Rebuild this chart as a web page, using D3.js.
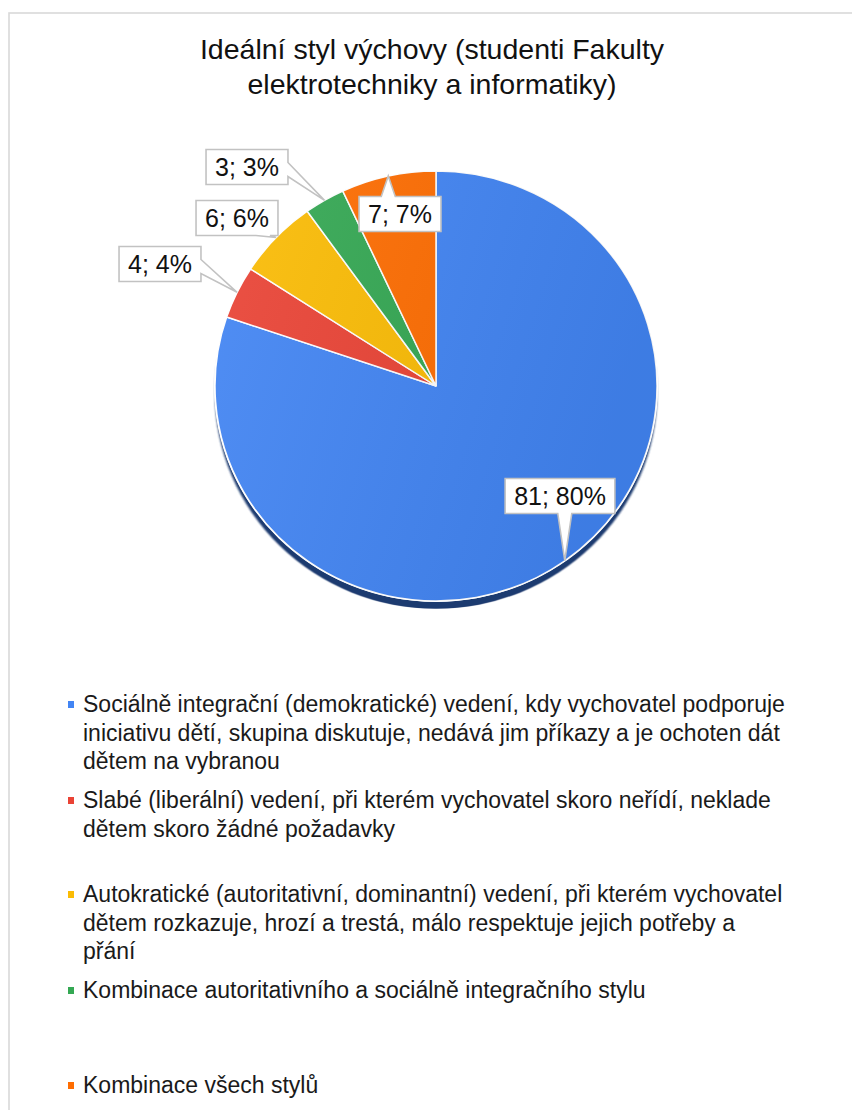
<!DOCTYPE html>
<html>
<head>
<meta charset="utf-8">
<script src="https://cdn.jsdelivr.net/npm/d3@7"></script>
<style>
  body { margin: 0; background: #fff; }
  svg { display: block; font-family: "Liberation Sans", Arial, sans-serif; }
</style>
</head>
<body>
<div id="chart"></div>
<script>
// data
var categories = [
  "Sociálně integrační (demokratické) vedení, kdy vychovatel podporuje iniciativu dětí, skupina diskutuje, nedává jim příkazy a je ochoten dát dětem na vybranou",
  "Slabé (liberální) vedení, při kterém vychovatel skoro neřídí, neklade dětem skoro žádné požadavky",
  "Autokratické (autoritativní, dominantní) vedení, při kterém vychovatel dětem rozkazuje, hrozí a trestá, málo respektuje jejich potřeby a přání",
  "Kombinace autoritativního a sociálně integračního stylu",
  "Kombinace všech stylů"
];
var values = [81, 4, 6, 3, 7];
var colors = ["#4285f4", "#ea4335", "#fbbc04", "#34a853", "#ff6d01"];
var titleLines = ["Ideální styl výchovy (studenti Fakulty", "elektrotechniky a informatiky)"];

// layout
var W = 852, H = 1110;
var cx = 436, cy = 386, rx = 221, ry = 215;
// callout box centres, one per slice
var labelPos = [[560, 496], [160, 264], [237, 218], [247, 167], [400, 214]];
// legend item baselines (Sheets puts them in uneven slots)
var legendY = [712, 808, 902, 998, 1093];
// word index where each wrapped legend line starts (same breaks as the original)
var legendBreaks = [[7, 18], [9], [7, 17], [], []];

var svg = d3.select("#chart").append("svg")
  .attr("width", W).attr("height", H);

// frame
svg.append("rect")
  .attr("x", 9).attr("y", 13)
  .attr("width", W + 20).attr("height", H + 20)
  .attr("fill", "none").attr("stroke", "#d9d9d9").attr("stroke-width", 1.6);

// title
svg.append("text")
  .attr("x", 432).attr("text-anchor", "middle")
  .attr("font-size", 28.5).attr("fill", "#111")
  .selectAll("tspan").data(titleLines).enter().append("tspan")
  .attr("x", 432).attr("y", function(d, i) { return 59 + i * 35; })
  .text(function(d) { return d; });

var total = d3.sum(values);
var pie = d3.pie().sort(null).value(function(d) { return d; });
var arcs = pie(values);
var arc = d3.arc().innerRadius(0).outerRadius(rx);
var rim = d3.arc().innerRadius(rx).outerRadius(rx);

var defs = svg.append("defs");
var shade = defs.append("linearGradient").attr("id", "shade")
  .attr("x1", "0%").attr("y1", "0%").attr("x2", "100%").attr("y2", "30%");
shade.append("stop").attr("offset", "0%").attr("stop-color", "#fff").attr("stop-opacity", 0.08);
shade.append("stop").attr("offset", "100%").attr("stop-color", "#000").attr("stop-opacity", 0.07);
defs.append("filter").attr("id", "soft")
  .append("feGaussianBlur").attr("stdDeviation", 0.8);

var sy = ry / rx;
var pieG = svg.append("g")
  .attr("transform", "translate(" + cx + "," + cy + ") scale(1," + sy + ")");

// dark rim under the pie
pieG.append("circle")
  .attr("cx", 0).attr("cy", 8).attr("r", rx)
  .attr("fill", "#1e3a6f").attr("filter", "url(#soft)");
pieG.append("circle")
  .attr("r", rx + 1).attr("fill", "#fff");

pieG.selectAll("path.slice").data(arcs).enter().append("path")
  .attr("class", "slice")
  .attr("d", arc)
  .attr("fill", function(d, i) { return colors[i]; })
  .attr("stroke", "#fff").attr("stroke-width", 1.5);

pieG.append("circle").attr("r", rx).attr("fill", "url(#shade)")
  .attr("pointer-events", "none");

// callouts
function calloutPath(x0, y0, x1, y1, ax, ay) {
  var w = 7, m = 8, c, s;
  var dl = x0 - ax, dr = ax - x1, dt = y0 - ay, db = ay - y1;
  var best = Math.max(dl, dr, dt, db);
  s = best === dr ? "r" : best === dl ? "l" : best === dt ? "t" : "b";
  var p = [[x0, y0]];
  if (s === "t") { c = Math.max(x0 + m + w, Math.min(x1 - m - w, ax)); p.push([c - w, y0], [ax, ay], [c + w, y0]); }
  p.push([x1, y0]);
  if (s === "r") { c = Math.max(y0 + m + w, Math.min(y1 - m - w, ay)); p.push([x1, c - w], [ax, ay], [x1, c + w]); }
  p.push([x1, y1]);
  if (s === "b") { c = Math.max(x0 + m + w, Math.min(x1 - m - w, ax)); p.push([c + w, y1], [ax, ay], [c - w, y1]); }
  p.push([x0, y1]);
  if (s === "l") { c = Math.max(y0 + m + w, Math.min(y1 - m - w, ay)); p.push([x0, c + w], [ax, ay], [x0, c - w]); }
  return "M" + p.map(function(q) { return q.join(","); }).join("L") + "Z";
}

var labG = svg.append("g");
arcs.forEach(function(d, i) {
  var v = values[i];
  var txt = v + "; " + Math.round(v / total * 100) + "%";
  var a = rim.centroid(d);
  var ax = cx + a[0], ay = cy + a[1] * sy;
  var g = labG.append("g");
  var t = g.append("text")
    .attr("x", labelPos[i][0]).attr("y", labelPos[i][1] + 8.5)
    .attr("text-anchor", "middle").attr("font-size", 25).attr("fill", "#111")
    .text(txt);
  var bw = t.node().getComputedTextLength() + 18, bh = 35;
  var x0 = labelPos[i][0] - bw / 2, y0 = labelPos[i][1] - bh / 2;
  g.insert("path", "text")
    .attr("d", calloutPath(x0, y0, x0 + bw, y0 + bh, ax, ay))
    .attr("fill", "#fff").attr("stroke", "#c2c2c2").attr("stroke-width", 1.6)
    .attr("stroke-linejoin", "miter");
});

// legend
var legend = svg.append("g").attr("font-size", 23).attr("fill", "#1a1a1a");
var lineH = 28.5;
categories.forEach(function(cat, i) {
  var g = legend.append("g");
  g.append("rect")
    .attr("x", 68).attr("y", legendY[i] - 11)
    .attr("width", 6).attr("height", 7)
    .attr("fill", colors[i]);
  var words = cat.split(" ");
  var starts = [0].concat(legendBreaks[i]), ends = legendBreaks[i].concat([words.length]);
  var lines = starts.map(function(s, k) { return words.slice(s, ends[k]).join(" "); });
  g.append("text").selectAll("tspan").data(lines).enter().append("tspan")
    .attr("x", 83).attr("y", function(d, k) { return legendY[i] + k * lineH; })
    .text(function(d) { return d; });
});
</script>
</body>
</html>
